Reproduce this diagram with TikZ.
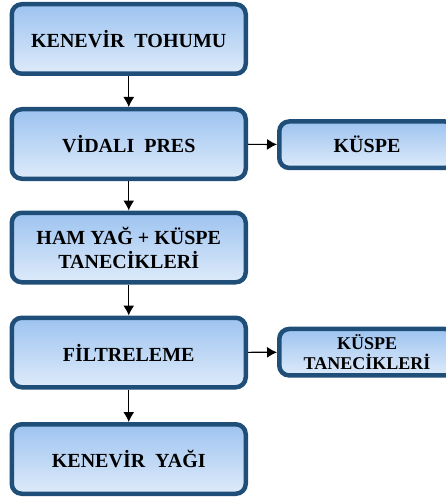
\documentclass[tikz,border=0pt]{standalone}
\usepackage{fontspec}
\setmainfont{Liberation Serif}
\usetikzlibrary{arrows.meta}

\definecolor{boxborder}{RGB}{31,78,121}
\definecolor{boxtop}{RGB}{157,195,240}
\definecolor{boxbottom}{RGB}{222,235,250}

\tikzset{
    stepbox/.style={draw=boxborder, line width=4.5pt, rounded corners=10pt,
        top color=boxtop, bottom color=boxbottom, align=center,
        minimum width=234pt, minimum height=69.5pt, inner sep=2pt,
        font=\bfseries\fontsize{20}{24}\selectfont},
    sidebox/.style={stepbox, minimum width=175.5pt, minimum height=46.5pt},
    flow/.style={-{Latex[length=10pt,width=11pt]}, line width=1.2pt}
}

\begin{document}
\begin{tikzpicture}[x=1pt,y=-1pt]
    \useasboundingbox (0,0) rectangle (445,497);

    % Main steps
    \node[stepbox] (seed)   at (128.75,39)    {KENEVİR~ TOHUMU};
    \node[stepbox] (press)  at (128.75,144)   {VİDALI~ PRES};
    \node[stepbox] (crude)  at (128.75,247.5) {HAM YAĞ + KÜSPE\\TANECİKLERİ};
    \node[stepbox] (filter) at (128.75,352.5) {FİLTRELEME};
    \node[stepbox] (oil)    at (128.75,459)   {KENEVİR~ YAĞI};

    % Side products
    \node[sidebox] (cake)  at (367,144.7) {KÜSPE};
    \node[sidebox, font=\bfseries\fontsize{18}{20}\selectfont]
        (fines) at (367,352.2) {KÜSPE\\TANECİKLERİ};

    % Arrows
    \draw[flow] (seed) -- (press);
    \draw[flow] (press) -- (crude);
    \draw[flow] (crude) -- (filter);
    \draw[flow] (filter) -- (oil);
    \draw[flow] (press) -- (cake);
    \draw[flow] (filter) -- (fines);
\end{tikzpicture}
\end{document}
